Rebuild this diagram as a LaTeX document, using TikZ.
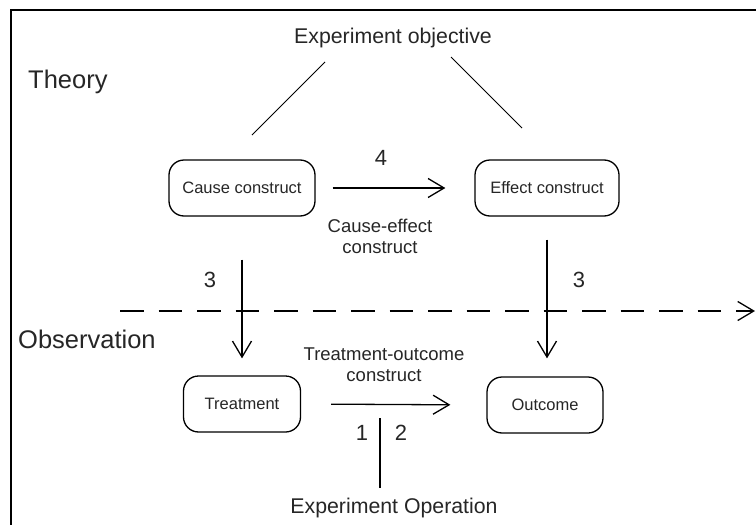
\documentclass[tikz,border=0pt]{standalone}
\usepackage{fontspec}
\setmainfont{Liberation Sans}
\usetikzlibrary{arrows.meta}

\begin{document}
\begin{tikzpicture}[x=1pt,y=-1pt,
  ink/.style={draw=black, line width=1.3pt},
  thin/.style={draw=black, line width=1pt},
  box/.style={ink, fill=white, rounded corners=15pt, minimum height=56pt, inner sep=0pt,
              font=\fontsize{16.5}{19}\selectfont, text=black!85},
  tip/.style={-{Straight Barb[length=16pt,width=19pt,line width=1.3pt]}},
  title/.style={font=\fontsize{25.5}{29}\selectfont, text=black!85, inner sep=0pt},
  head/.style={font=\fontsize{21.3}{25}\selectfont, text=black!85, inner sep=0pt},
  mid/.style={font=\fontsize{18.5}{21}\selectfont, text=black!85, inner sep=0pt, align=center},
  num/.style={font=\fontsize{22}{26}\selectfont, text=black!85, inner sep=0pt},
]
\useasboundingbox (0,0) rectangle (756,525);

% frame along the top and left edges
\draw[line width=2.6pt] (11,525) -- (11,10) -- (756,10);

% level labels
\node[title, anchor=base west] (theory) at (28,88) {Theory};
\node[title, anchor=base west] (observation) at (18,348) {Observation};

% experiment objective and the two strokes under it
\node[head, anchor=base] (objective) at (393,43) {Experiment objective};
\coordinate (objL1) at (252,135);
\coordinate (objL2) at (325,62);
\coordinate (objR1) at (451,57);
\coordinate (objR2) at (522,128);
\draw[thin] (objL1) -- (objL2);
\draw[thin] (objR1) -- (objR2);

% constructs
\node[box, minimum width=146pt] (cause) at (242,188) {Cause construct};
\node[box, minimum width=144pt] (effect) at (547,188) {Effect construct};

% observations
\node[box, minimum width=117pt] (treatment) at (242,404) {Treatment};
\node[box, minimum width=116pt] (outcome) at (545,405) {Outcome};

% cause -> effect
\draw[ink, tip, shorten <=17pt, shorten >=29pt] (cause.east) -- (effect.west);
\node[num, anchor=base] (n4) at (381,165) {4};
\node[mid, anchor=base] (celabel) at (380,253) {Cause-effect\\construct};

% treatment -> outcome
\draw[ink, tip, shorten <=30pt, shorten >=36pt] (treatment.east) -- (outcome.west);
\node[mid, anchor=base] (tolabel) at (384,381) {Treatment-outcome\\construct};

% theory -> observation
\draw[ink, tip, shorten <=43pt, shorten >=17pt] (cause.south) -- (treatment.north);
\draw[ink, tip, shorten <=23pt, shorten >=18pt] (effect.south) -- (outcome.north -| effect.south);
\node[num, anchor=base] (n3l) at (210,287) {3};
\node[num, anchor=base] (n3r) at (579,287) {3};

% dashed boundary between theory and observation
\coordinate (dashL) at (120,311);
\coordinate (dashR) at (755,311);
\draw[ink, tip, dash pattern=on 23.5pt off 15pt] (dashL) -- (dashR);

% experiment operation
\node[num, anchor=base] (n1) at (362,440) {1};
\node[num, anchor=base] (n2) at (401,440) {2};
\coordinate (opTop) at (380,418);
\coordinate (opBot) at (380,488);
\draw[ink] (opTop) -- (opBot);
\node[head, anchor=base] (operation) at (394,513) {Experiment Operation};
\end{tikzpicture}
\end{document}
